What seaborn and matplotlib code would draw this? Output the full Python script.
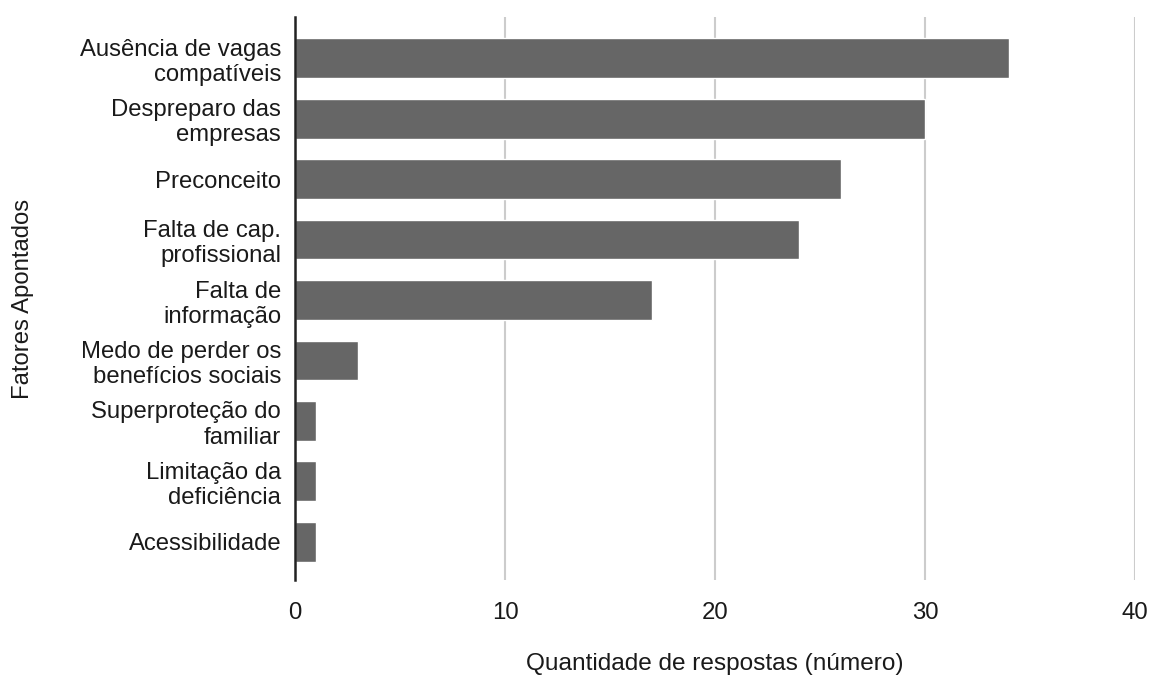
import matplotlib
matplotlib.use("Agg")
import matplotlib.pyplot as plt
import seaborn as sns
import pandas as pd

# Factors reported and number of responses for each
fatores = [
    "Ausência de vagas\ncompatíveis",
    "Despreparo das\nempresas",
    "Preconceito",
    "Falta de cap.\nprofissional",
    "Falta de\ninformação",
    "Medo de perder os\nbenefícios sociais",
    "Superproteção do\nfamiliar",
    "Limitação da\ndeficiência",
    "Acessibilidade",
]
respostas = [34, 30, 26, 24, 17, 3, 1, 1, 1]
x_ticks = [0, 10, 20, 30, 40]

df = pd.DataFrame({"fator": fatores, "respostas": respostas})

sns.set_theme(style="white")
plt.rcParams["font.family"] = ["Liberation Sans", "DejaVu Sans"]

fig = plt.figure(figsize=(11.5, 6.86), dpi=100)
ax = fig.add_axes([295 / 1150, 1 - 580 / 686, 840 / 1150, 563 / 686])

sns.barplot(data=df, y="fator", x="respostas", orient="h", color="#666666",
            saturation=1, width=0.66, ax=ax, zorder=3)

ax.set_xlim(0, 40)
ax.set_ylim(len(fatores) - 1 + 0.63, -0.68)
ax.set_xticks(x_ticks)
ax.set_xticklabels([str(t) for t in x_ticks])
ax.xaxis.grid(True, color="#cccccc", linewidth=1.5, zorder=0)
ax.yaxis.grid(False)
ax.set_axisbelow(True)

for side in ["top", "right", "bottom"]:
    ax.spines[side].set_visible(False)
ax.spines["left"].set_color("#222222")
ax.spines["left"].set_linewidth(1.8)
ax.spines["left"].set_zorder(5)

ax.tick_params(axis="x", length=0, pad=16, labelsize=17.3, labelcolor="#1a1a1a")
ax.tick_params(axis="y", length=0, pad=10, labelsize=17.2, labelcolor="#1a1a1a")
for lbl in ax.get_yticklabels():
    lbl.set_linespacing(1.2)
    lbl.set_horizontalalignment("right")
    lbl.set_multialignment("right")

ax.set_xlabel("Quantidade de respostas (número)", fontsize=17.6, color="#1a1a1a", labelpad=21)
ax.set_ylabel("Fatores Apontados", fontsize=17.2, color="#1a1a1a", labelpad=33)

fig.savefig("out.png", dpi=100, facecolor="white")
